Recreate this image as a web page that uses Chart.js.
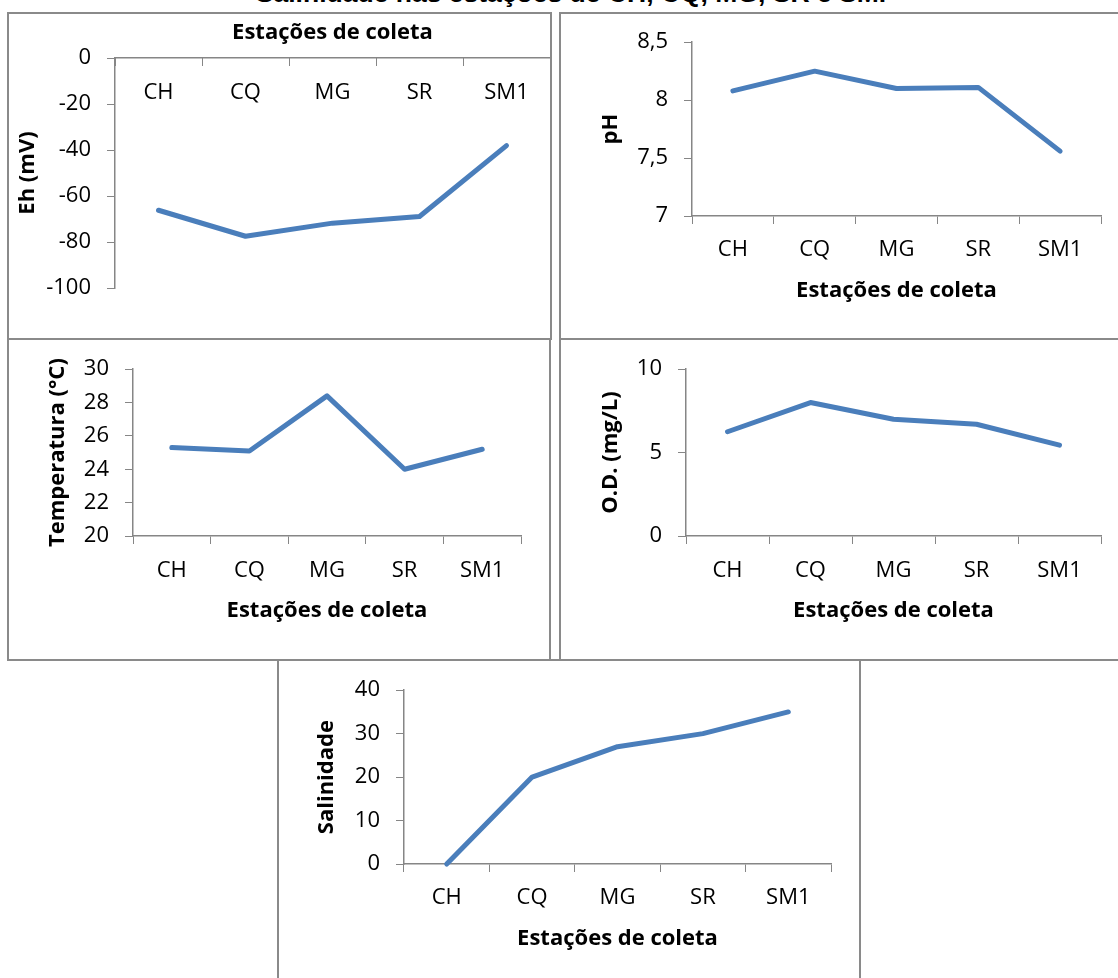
<!DOCTYPE html>
<html>
<head>
<meta charset="utf-8">
<script src="https://cdn.jsdelivr.net/npm/chart.js@4.4.1/dist/chart.umd.min.js"></script>
<style>
  html, body { margin: 0; padding: 0; background: #ffffff; }
  body { width: 1118px; height: 978px; position: relative; overflow: hidden; }
  .box { position: absolute; box-sizing: border-box; border: 2px solid #8a8a8a; background: transparent; pointer-events: none; }
  .cv { position: absolute; }
  #mainTitle { position: absolute; left: 0; width: 1142px; top: -20px; line-height: 26px; text-align: center; white-space: nowrap;
    font-family: "Liberation Sans", Arial, sans-serif; font-weight: bold; font-size: 26.5px; color: #000; }
</style>
</head>
<body>
<div id="mainTitle">Salinidade nas estações de CH, CQ, MG, SR e SM.</div>

<canvas id="cEh" class="cv"></canvas>
<canvas id="cPh" class="cv"></canvas>
<canvas id="cTemp" class="cv"></canvas>
<canvas id="cOd" class="cv"></canvas>
<canvas id="cSal" class="cv"></canvas>

<div class="box" style="left:7px;top:12px;width:545px;height:328px;"></div>
<div class="box" style="left:559px;top:12px;width:570px;height:328px;"></div>
<div class="box" style="left:7px;top:338px;width:544px;height:323px;"></div>
<div class="box" style="left:559px;top:338px;width:570px;height:323px;"></div>
<div class="box" style="left:277px;top:659px;width:584px;height:330px;"></div>

<script>
// ---- data ----
const stations = ['CH', 'CQ', 'MG', 'SR', 'SM1'];
const xAxisTitle = 'Estações de coleta';

const ehValues   = [-66.2, -77.5, -71.8, -68.9, -38.1];
const phValues   = [8.08, 8.25, 8.10, 8.11, 7.56];
const tempValues = [25.3, 25.1, 28.4, 24.0, 25.2];
const odValues   = [6.25, 8.0, 7.0, 6.7, 5.45];
const salValues  = [0, 20, 27, 30, 35];

const ehTicks   = ['-100', '-80', '-60', '-40', '-20', '0'];
const phTicks   = ['7', '7,5', '8', '8,5'];
const tempTicks = ['20', '22', '24', '26', '28', '30'];
const odTicks   = ['0', '5', '10'];
const salTicks  = ['0', '10', '20', '30', '40'];

// ---- style ----
const LINE = '#4a7ebb';
const AXIS = '#868686';
const FONT = '"Open Sans", Lato, sans-serif';
const TICK_SIZE = 22;
const TITLE_SIZE = 22;
Chart.defaults.font.family = FONT;
Chart.defaults.color = '#000';
Chart.defaults.animation = false;

function makeChart(id, pos, values, tickLabels, yMin, yMax, step, yTitle, L) {
  const cv = document.getElementById(id);
  cv.style.left = pos.left + 'px';
  cv.style.top = pos.top + 'px';
  cv.style.width = pos.w + 'px';
  cv.style.height = pos.h + 'px';
  cv.width = pos.w; cv.height = pos.h;
  const xTop = L.xTop === true;
  return new Chart(cv, {
    type: 'line',
    data: {
      labels: stations,
      datasets: [{
        data: values,
        borderColor: LINE,
        borderWidth: 5,
        pointRadius: 0,
        pointHoverRadius: 0,
        borderCapStyle: 'round',
        borderJoinStyle: 'round',
        tension: 0,
        fill: false,
        clip: false
      }]
    },
    options: {
      responsive: false,
      maintainAspectRatio: false,
      events: [],
      layout: { padding: { left: 0, right: L.padRight, top: L.padTop, bottom: L.padBottom } },
      plugins: { legend: { display: false }, tooltip: { enabled: false }, title: { display: false } },
      scales: {
        x: {
          type: 'category',
          position: xTop ? 'top' : 'bottom',
          offset: true,
          grid: { offset: true, drawOnChartArea: false, drawTicks: true, tickLength: xTop ? -8 : 8, color: AXIS, lineWidth: 1 },
          border: { display: true, color: AXIS, width: 1.5 },
          ticks: { font: { size: TICK_SIZE }, color: '#000', padding: L.xTickPad, mirror: xTop,
                   maxRotation: 0, minRotation: 0, autoSkip: false },
          title: { display: true, text: xAxisTitle, color: '#000', font: { size: TITLE_SIZE, weight: 'bold' },
                   padding: xTop ? { top: L.xTitlePad, bottom: 0 } : { top: 0, bottom: L.xTitlePad } },
          afterFit: (s) => { s.height = L.xHeight; }
        },
        y: {
          type: 'linear',
          min: yMin, max: yMax,
          grid: { drawOnChartArea: false, drawTicks: true, tickLength: 8, color: AXIS, lineWidth: 1 },
          border: { display: true, color: AXIS, width: 1.5 },
          ticks: { stepSize: step, font: { size: TICK_SIZE }, color: '#000', padding: 16,
                   callback: (v, i) => tickLabels[i] },
          title: { display: true, text: yTitle, color: '#000', font: { size: TITLE_SIZE, weight: 'bold' },
                   padding: { top: L.yTitlePad, bottom: 0 } },
          afterFit: (s) => { s.width = L.yWidth; }
        }
      }
    }
  });
}

// Eh (x axis at top)
makeChart('cEh', { left: 8, top: 13, w: 543, h: 325 }, ehValues, ehTicks, -100, 0, 20, 'Eh (mV)',
  { xTop: true, padRight: 1, padTop: 0, padBottom: 50, xHeight: 45, xTickPad: 22, xTitlePad: 7, yWidth: 107, yTitlePad: 7 });

// pH
makeChart('cPh', { left: 560, top: 13, w: 558, h: 325 }, phValues, phTicks, 7, 8.5, 0.5, 'pH',
  { padRight: 17, padTop: 27, padBottom: 0, xHeight: 122, xTickPad: 13, xTitlePad: 34, yWidth: 132, yTitlePad: 38 });

// Temperatura
makeChart('cTemp', { left: 8, top: 340, w: 542, h: 319 }, tempValues, tempTicks, 20, 30, 2, 'Temperatura (°C)',
  { padRight: 29, padTop: 28, padBottom: 0, xHeight: 123, xTickPad: 14, xTitlePad: 35, yWidth: 125, yTitlePad: 37 });

// O.D.
makeChart('cOd', { left: 560, top: 340, w: 558, h: 319 }, odValues, odTicks, 0, 10, 5, 'O.D. (mg/L)',
  { padRight: 17, padTop: 28, padBottom: 0, xHeight: 123, xTickPad: 14, xTitlePad: 35, yWidth: 126, yTitlePad: 38 });

// Salinidade
makeChart('cSal', { left: 279, top: 661, w: 580, h: 317 }, salValues, salTicks, 0, 40, 10, 'Salinidade',
  { padRight: 28, padTop: 28, padBottom: 0, xHeight: 114, xTickPad: 13, xTitlePad: 26, yWidth: 125, yTitlePad: 35 });
</script>
</body>
</html>
